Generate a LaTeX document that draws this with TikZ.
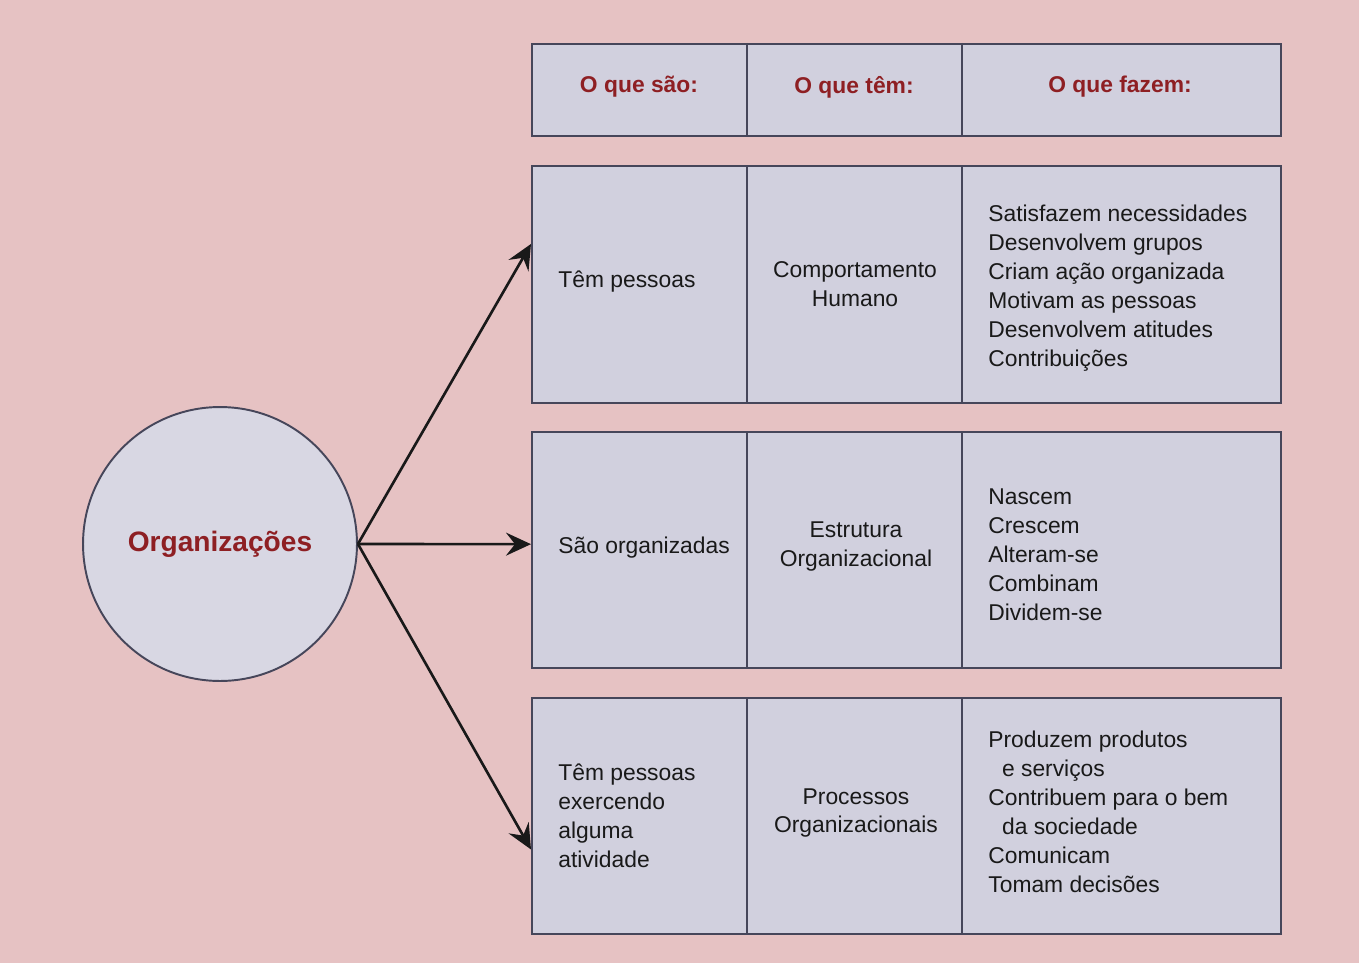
\documentclass[tikz,border=0pt]{standalone}
\usepackage{fontspec}
\setmainfont{Liberation Sans}
\usetikzlibrary{arrows.meta, positioning, calc}
\definecolor{pagepink}{RGB}{230,194,195}
\definecolor{boxgray}{RGB}{209,208,222}
\definecolor{edgegray}{RGB}{70,70,90}
\definecolor{titlered}{RGB}{142,31,35}

\tikzset{
  rowbox/.style={draw=edgegray, fill=boxgray, line width=1.3pt, minimum width=14.98cm, inner sep=0pt, anchor=north west},
  headtxt/.style={text=titlered, font=\fontsize{13}{16}\selectfont\bfseries, inner sep=0pt},
  celltxt/.style={font=\fontsize{13}{16.5}\selectfont, text=black!90, inner sep=0pt, align=left, anchor=west},
  midtxt/.style={celltxt, align=center, anchor=center},
  link/.style={-{Stealth[length=5mm,width=4.6mm,inset=1.8mm]}, line width=1.5pt, black!90}
}

\begin{document}
\begin{tikzpicture}[x=0.02cm, y=-0.02cm]
  \fill[pagepink] (0,0) rectangle (1359,963);
  \useasboundingbox (0,0) rectangle (1359,963);

  % rows of the table
  \node[rowbox, minimum height=1.84cm] (head) at (531,43) {};
  \node[rowbox, minimum height=4.74cm] (row1) at (531,165) {};
  \node[rowbox, minimum height=4.72cm] (row2) at (531,431) {};
  \node[rowbox, minimum height=4.72cm] (row3) at (531,697) {};

  % column lines
  \foreach \r in {head,row1,row2,row3}
    \foreach \dx in {216,431}
      \draw[edgegray, line width=0.7pt] ($(\r.north west)+(\dx,0)$) -- ($(\r.south west)+(\dx,0)$);

  % header
  \node[headtxt] (h1) at (639,87) {O que são:};
  \node[headtxt] (h2) at (854,87) {O que têm:};
  \node[headtxt] (h3) at (1120,87) {O que fazem:};

  % first row
  \node[celltxt] (r1a) at (558,282) {Têm pessoas};
  \node[midtxt] (r1b) at (855,284) {Comportamento\\Humano};
  \node[celltxt] (r1c) at (988,288) {Satisfazem necessidades\\Desenvolvem grupos\\Criam ação organizada\\Motivam as pessoas\\Desenvolvem atitudes\\Contribuições};

  % second row
  \node[celltxt] (r2a) at (558,548) {São organizadas};
  \node[midtxt] (r2b) at (856,547) {Estrutura\\Organizacional};
  \node[celltxt] (r2c) at (988,555) {Nascem\\Crescem\\Alteram-se\\Combinam\\Dividem-se};

  % third row
  \node[celltxt] (r3a) at (558,816) {Têm pessoas\\exercendo\\alguma\\atividade};
  \node[midtxt] (r3b) at (856,813) {Processos\\Organizacionais};
  \node[celltxt] (r3c) at (988,812) {Produzem produtos\\\hspace*{0.6em}e serviços\\Contribuem para o bem\\\hspace*{0.6em}da sociedade\\Comunicam\\Tomam decisões};

  % circle
  \node[circle, draw=edgegray, fill=boxgray!85!white, line width=1.1pt, minimum size=5.48cm, inner sep=0pt, text=titlered, font=\fontsize{16}{19}\selectfont\bfseries] (org) at (220,544) {Organizações};

  \draw[link] (org.east) -- ($(row1.north west)!0.33!(row1.south west)$);
  \draw[link] (org.east) -- ($(row2.north west)!0.475!(row2.south west)$);
  \draw[link] (org.east) -- ($(row3.north west)!0.64!(row3.south west)$);
\end{tikzpicture}
\end{document}
